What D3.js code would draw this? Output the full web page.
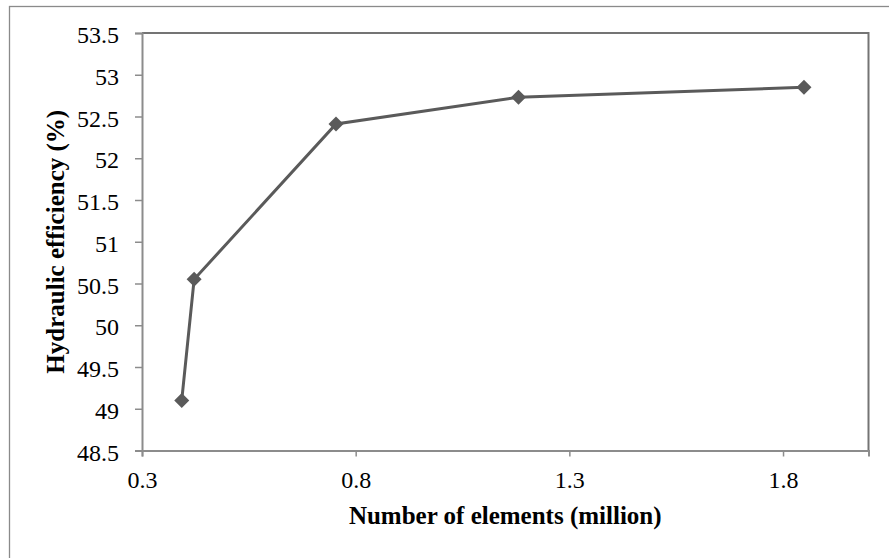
<!DOCTYPE html>
<html>
<head>
<meta charset="utf-8">
<script src="https://cdn.jsdelivr.net/npm/d3@7"></script>
<style>
  html, body { margin: 0; padding: 0; background: #fff; }
  svg { display: block; }
</style>
</head>
<body>
<svg id="chart" width="889" height="558"></svg>
<script>
const elements = [0.393, 0.422, 0.754, 1.181, 1.849];
const efficiency = [49.10, 50.55, 52.41, 52.73, 52.85];
const xTicks = [0.3, 0.8, 1.3, 1.8];
const yTicks = [48.5, 49, 49.5, 50, 50.5, 51, 51.5, 52, 52.5, 53, 53.5];
const xTitle = "Number of elements (million)";
const yTitle = "Hydraulic efficiency (%)";

(function () {
const svg = d3.select("#chart");
const W = 889, H = 558;
const pLeft = 142, pRight = 868.5, pTop = 33, pBottom = 450.5;

// outer chart border
svg.append("rect")
  .attr("x", 9.5).attr("y", 6.5)
  .attr("width", W + 20).attr("height", H + 20)
  .attr("fill", "#fff").attr("stroke", "#8a8a8a").attr("stroke-width", 1.3);

const x = d3.scaleLinear().domain([0.3, 2.0]).range([pLeft, pRight]);
const y = d3.scaleLinear().domain([48.5, 53.5]).range([pBottom, pTop]);

// plot area border (top/right)
svg.append("path")
  .attr("d", `M${pLeft},${pTop}H${pRight}V${pBottom}`)
  .attr("fill", "none").attr("stroke", "#747474").attr("stroke-width", 2);

const font = "'Liberation Serif', 'Times New Roman', serif";

// Y axis
const yAxis = svg.append("g")
  .attr("transform", `translate(${pLeft},0)`)
  .call(d3.axisLeft(y).tickValues(yTicks).tickSize(7).tickPadding(16).tickFormat(d3.format("")));
yAxis.select(".domain").attr("stroke", "#8c8c8c").attr("stroke-width", 2);
yAxis.selectAll(".tick line").attr("stroke", "#8c8c8c").attr("stroke-width", 1.5);
yAxis.selectAll(".tick text")
  .attr("font-family", font).attr("font-size", 24).attr("fill", "#000")
  .attr("dy", "0.4em");

// X axis
const xAxis = svg.append("g")
  .attr("transform", `translate(0,${pBottom})`)
  .call(d3.axisBottom(x).tickValues(xTicks).tickSize(6).tickFormat(d3.format("")));
xAxis.select(".domain").attr("stroke", "#8c8c8c").attr("stroke-width", 2);
xAxis.selectAll(".tick line").attr("stroke", "#8c8c8c").attr("stroke-width", 1.5);
xAxis.selectAll(".tick text")
  .attr("font-family", font).attr("font-size", 24).attr("fill", "#000")
  .attr("y", 37.5).attr("dy", 0);

// Titles
svg.append("text")
  .attr("x", (pLeft + pRight) / 2).attr("y", 524)
  .attr("text-anchor", "middle")
  .attr("font-family", font).attr("font-weight", "bold").attr("font-size", 25)
  .text(xTitle);

svg.append("text")
  .attr("transform", `translate(64,${(pTop + pBottom) / 2}) rotate(-90)`)
  .attr("text-anchor", "middle")
  .attr("font-family", font).attr("font-weight", "bold").attr("font-size", 25)
  .text(yTitle);

// Data line
const data = elements.map((e, i) => ({ x: e, y: efficiency[i] }));
svg.append("path")
  .datum(data)
  .attr("d", d3.line().x(d => x(d.x)).y(d => y(d.y)))
  .attr("fill", "none").attr("stroke", "#5a5a5a").attr("stroke-width", 3);

// Diamond markers
svg.selectAll(".pt")
  .data(data).enter().append("path")
  .attr("class", "pt")
  .attr("transform", d => `translate(${x(d.x)},${y(d.y)})`)
  .attr("d", "M0,-7.5L7.5,0L0,7.5L-7.5,0Z")
  .attr("fill", "#5a5a5a");
})();
</script>
</body>
</html>
